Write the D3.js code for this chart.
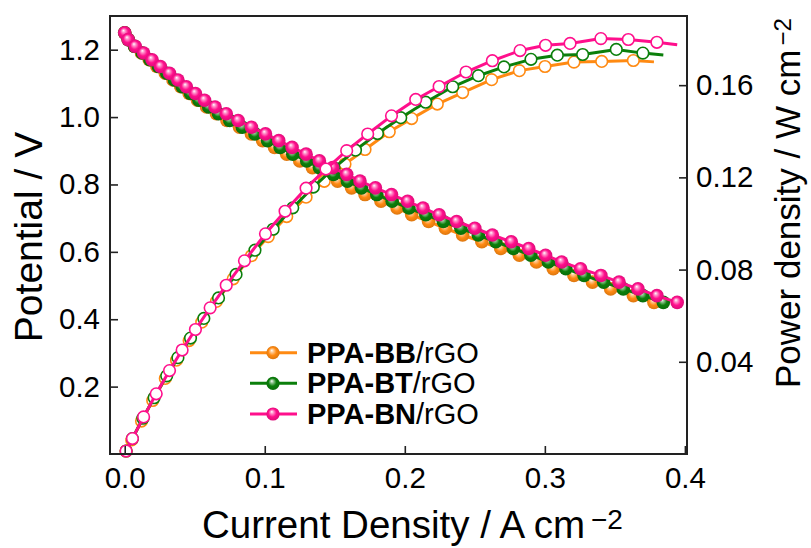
<!DOCTYPE html>
<html>
<head>
<meta charset="utf-8">
<script src="https://cdn.jsdelivr.net/npm/d3@7"></script>
<style>
  html, body { margin: 0; padding: 0; background: #fff; }
  svg { display: block; font-family: "Liberation Sans", Arial, sans-serif; }
</style>
</head>
<body>
<svg id="chart" width="811" height="548"></svg>
<script>
// ---- data -------------------------------------------------------------
// Cell potential (V) at each polarization marker
const polVoltage = [1.25,1.23,1.21,1.19,1.17,1.15,1.13,1.11,1.09,1.07,1.05,1.03,1.01,0.99,0.97,0.95,0.93,0.91,0.89,0.87,0.85,0.83,0.81,0.79,0.77,0.75,0.73,0.71,0.69,0.67,0.65,0.63,0.61,0.59,0.57,0.55,0.53,0.51,0.49,0.47,0.45];
// Current density (A cm^-2) at those potentials
const bbPolCurrent = [0,0.0025,0.007,0.012,0.0175,0.023,0.029,0.0345,0.040,0.046,0.052,0.0585,0.0655,0.073,0.082,0.0905,0.0985,0.107,0.1157,0.125,0.134,0.1425,0.152,0.162,0.1716,0.183,0.1945,0.2049,0.217,0.229,0.2413,0.255,0.2685,0.2818,0.294,0.306,0.3208,0.334,0.347,0.3632,0.3779];
const btPolCurrent = [0,0.0025,0.007,0.0125,0.018,0.024,0.030,0.0355,0.041,0.047,0.053,0.060,0.067,0.075,0.084,0.093,0.102,0.111,0.120,0.130,0.139,0.149,0.159,0.169,0.180,0.191,0.203,0.215,0.2275,0.240,0.2525,0.265,0.2775,0.290,0.3025,0.315,0.328,0.342,0.356,0.370,0.3846];
const bnPolCurrent = [0,0.0025,0.0075,0.0135,0.0195,0.0255,0.032,0.038,0.044,0.0505,0.057,0.0645,0.0725,0.081,0.0905,0.1005,0.110,0.1195,0.1295,0.139,0.1485,0.1585,0.168,0.179,0.1905,0.202,0.213,0.2245,0.237,0.250,0.2625,0.276,0.2885,0.3005,0.312,0.3255,0.340,0.353,0.3665,0.380,0.3945];

// Power density curves: current (A cm^-2) and power (W cm^-2);
// the last reading of each curve is joined by the line but carries no marker
const bbPowCurrent = [0.001,0.005,0.012,0.020,0.029,0.037,0.046,0.055,0.0655,0.0775,0.0905,0.1025,0.1157,0.1295,0.1425,0.1573,0.1716,0.1889,0.2049,0.2232,0.2413,0.262,0.2818,0.3001,0.3208,0.3406,0.3632,0.3779];
const bbPower      = [0.0013,0.0061,0.0143,0.0232,0.0328,0.0407,0.0492,0.0572,0.0662,0.0760,0.0860,0.0943,0.1030,0.1114,0.1183,0.1258,0.1321,0.1398,0.1455,0.1518,0.1568,0.1624,0.1663,0.1681,0.1700,0.1703,0.1707,0.1701];
const btPowCurrent = [0.001,0.0055,0.013,0.021,0.030,0.038,0.047,0.0565,0.067,0.0795,0.093,0.106,0.120,0.1347,0.1495,0.1648,0.1805,0.1971,0.2149,0.2342,0.2525,0.2708,0.2901,0.3089,0.327,0.351,0.370,0.3846];
const btPower      = [0.0013,0.0067,0.0155,0.0244,0.0339,0.0418,0.0503,0.0588,0.0677,0.0779,0.0884,0.0975,0.1068,0.1158,0.1241,0.1318,0.1390,0.1459,0.1526,0.1593,0.1641,0.1679,0.1712,0.1730,0.1733,0.1755,0.1739,0.1731];
const bnPowCurrent = [0.001,0.0055,0.0135,0.0225,0.032,0.041,0.0505,0.061,0.0725,0.0855,0.1005,0.1145,0.1295,0.1437,0.1585,0.1735,0.1905,0.2078,0.2245,0.2437,0.2625,0.2823,0.3005,0.318,0.340,0.3596,0.380,0.3945];
const bnPower      = [0.0013,0.0067,0.0161,0.0261,0.0362,0.0451,0.0540,0.0634,0.0732,0.0838,0.0955,0.1053,0.1153,0.1236,0.1316,0.1388,0.1467,0.1538,0.1594,0.1657,0.1706,0.1750,0.1773,0.1781,0.1802,0.1798,0.1786,0.1775];

const seriesBold   = ["PPA-BB", "PPA-BT", "PPA-BN"];
const seriesSuffix = "/rGO";
const seriesColors = ["#FF8A12", "#0B7F0B", "#FF0F8C"];

const xTicks     = [0, 0.1, 0.2, 0.3, 0.4];
const leftTicks  = [0.2, 0.4, 0.6, 0.8, 1.0, 1.2];
const rightTicks = [0.04, 0.08, 0.12, 0.16];

// ---- layout -----------------------------------------------------------
const svg = d3.select("#chart");
const L = 110, R = 687, T = 16, B = 454;

const x  = d3.scaleLinear().domain([-0.0105, 0.4015]).range([L, R]);
const yL = d3.scaleLinear().domain([0, 1.3]).range([B, T]);
const yR = d3.scaleLinear().domain([0, 0.19]).range([B, T]);

// shaded-sphere gradients for the filled markers
const defs = svg.append("defs");
seriesColors.forEach((c, i) => {
  const base = d3.color(c);
  const g = defs.append("radialGradient").attr("id", "sph" + i)
    .attr("cx", "50%").attr("cy", "50%").attr("r", "55%")
    .attr("fx", "40%").attr("fy", "32%");
  g.append("stop").attr("offset", "0%").attr("stop-color", "#ffffff");
  g.append("stop").attr("offset", "22%").attr("stop-color", d3.interpolateRgb(c, "#fff")(0.55));
  g.append("stop").attr("offset", "55%").attr("stop-color", c);
  g.append("stop").attr("offset", "100%").attr("stop-color", base.darker(0.5).formatHex());
});

const series = [
  { pc: bbPolCurrent, wc: bbPowCurrent, w: bbPower },
  { pc: btPolCurrent, wc: btPowCurrent, w: btPower },
  { pc: bnPolCurrent, wc: bnPowCurrent, w: bnPower }
];

const plot = svg.append("g");
const polLine = d3.line().x(d => x(d[0])).y(d => yL(d[1]));
const powLine = d3.line().x(d => x(d[0])).y(d => yR(d[1]));

series.forEach((s, i) => {
  const col = seriesColors[i];
  const pol = s.pc.map((c, k) => [c, polVoltage[k]]);
  const pow = s.wc.map((c, k) => [c, s.w[k]]);
  const g = plot.append("g");

  g.append("path").datum(pol).attr("d", polLine)
    .attr("fill", "none").attr("stroke", col).attr("stroke-width", 3);
  g.selectAll("circle.pol").data(pol).join("circle").attr("class", "pol")
    .attr("cx", d => x(d[0])).attr("cy", d => yL(d[1])).attr("r", 6.8)
    .attr("fill", `url(#sph${i})`);

  g.append("path").datum(pow).attr("d", powLine)
    .attr("fill", "none").attr("stroke", col).attr("stroke-width", 3)
    .attr("stroke-linejoin", "round");
  g.selectAll("circle.pow").data(pow.slice(0, -1)).join("circle").attr("class", "pow")
    .attr("cx", d => x(d[0])).attr("cy", d => yR(d[1])).attr("r", 5.8)
    .attr("fill", "#fff").attr("stroke", col).attr("stroke-width", 1.6);
});

// ---- axes -------------------------------------------------------------
const fmt1 = d3.format(".1f"), fmt2 = d3.format(".2f");
const axB = svg.append("g").attr("transform", `translate(0,${B})`)
  .call(d3.axisBottom(x).tickValues(xTicks).tickFormat(fmt1).tickSize(-8).tickPadding(13));
const axL = svg.append("g").attr("transform", `translate(${L},0)`)
  .call(d3.axisLeft(yL).tickValues(leftTicks).tickFormat(fmt1).tickSize(-8).tickPadding(10));
const axR = svg.append("g").attr("transform", `translate(${R},0)`)
  .call(d3.axisRight(yR).tickValues(rightTicks).tickFormat(fmt2).tickSize(-8).tickPadding(9));

[axB, axL, axR].forEach(a => {
  a.select(".domain").remove();
  a.selectAll(".tick line").attr("stroke", "#222").attr("stroke-width", 1.6);
  a.selectAll(".tick text").attr("fill", "#000")
    .style("font-family", '"Liberation Sans", Arial, sans-serif').style("font-size", "29.5px");
});

svg.append("rect").attr("x", L).attr("y", T).attr("width", R - L).attr("height", B - T)
  .attr("fill", "none").attr("stroke", "#222").attr("stroke-width", 2);

// axis titles
const xt = svg.append("text").attr("x", 202).attr("y", 538)
  .attr("font-size", 38.5).attr("fill", "#000");
xt.append("tspan").text("Current Density / A cm");
xt.append("tspan").attr("dx", 6).attr("dy", -9).attr("font-size", 28).text("\u22122");

svg.append("text").attr("transform", "translate(42,237) rotate(-90)")
  .attr("text-anchor", "middle").attr("font-size", 39).attr("fill", "#000")
  .text("Potential / V");

const rt = svg.append("text").attr("transform", "translate(800,388) rotate(-90)")
  .attr("font-size", 35).attr("fill", "#000");
rt.append("tspan").text("Power density / W cm");
rt.append("tspan").attr("dx", 4).attr("dy", -9).attr("font-size", 24).text("\u22122");

// ---- legend -----------------------------------------------------------
const legY = [352.7, 383.3, 414];
const leg = svg.append("g");
seriesBold.forEach((name, i) => {
  const g = leg.append("g").attr("transform", `translate(0,${legY[i]})`);
  g.append("line").attr("x1", 250).attr("x2", 297).attr("y1", 0).attr("y2", 0)
    .attr("stroke", seriesColors[i]).attr("stroke-width", 3);
  g.append("circle").attr("cx", 273).attr("cy", 0).attr("r", 6.6).attr("fill", `url(#sph${i})`);
  const t = g.append("text").attr("x", 307).attr("y", 10).attr("font-size", 29).attr("fill", "#000");
  t.append("tspan").attr("font-weight", "bold").text(name);
  t.append("tspan").text(seriesSuffix);
});
</script>
</body>
</html>
